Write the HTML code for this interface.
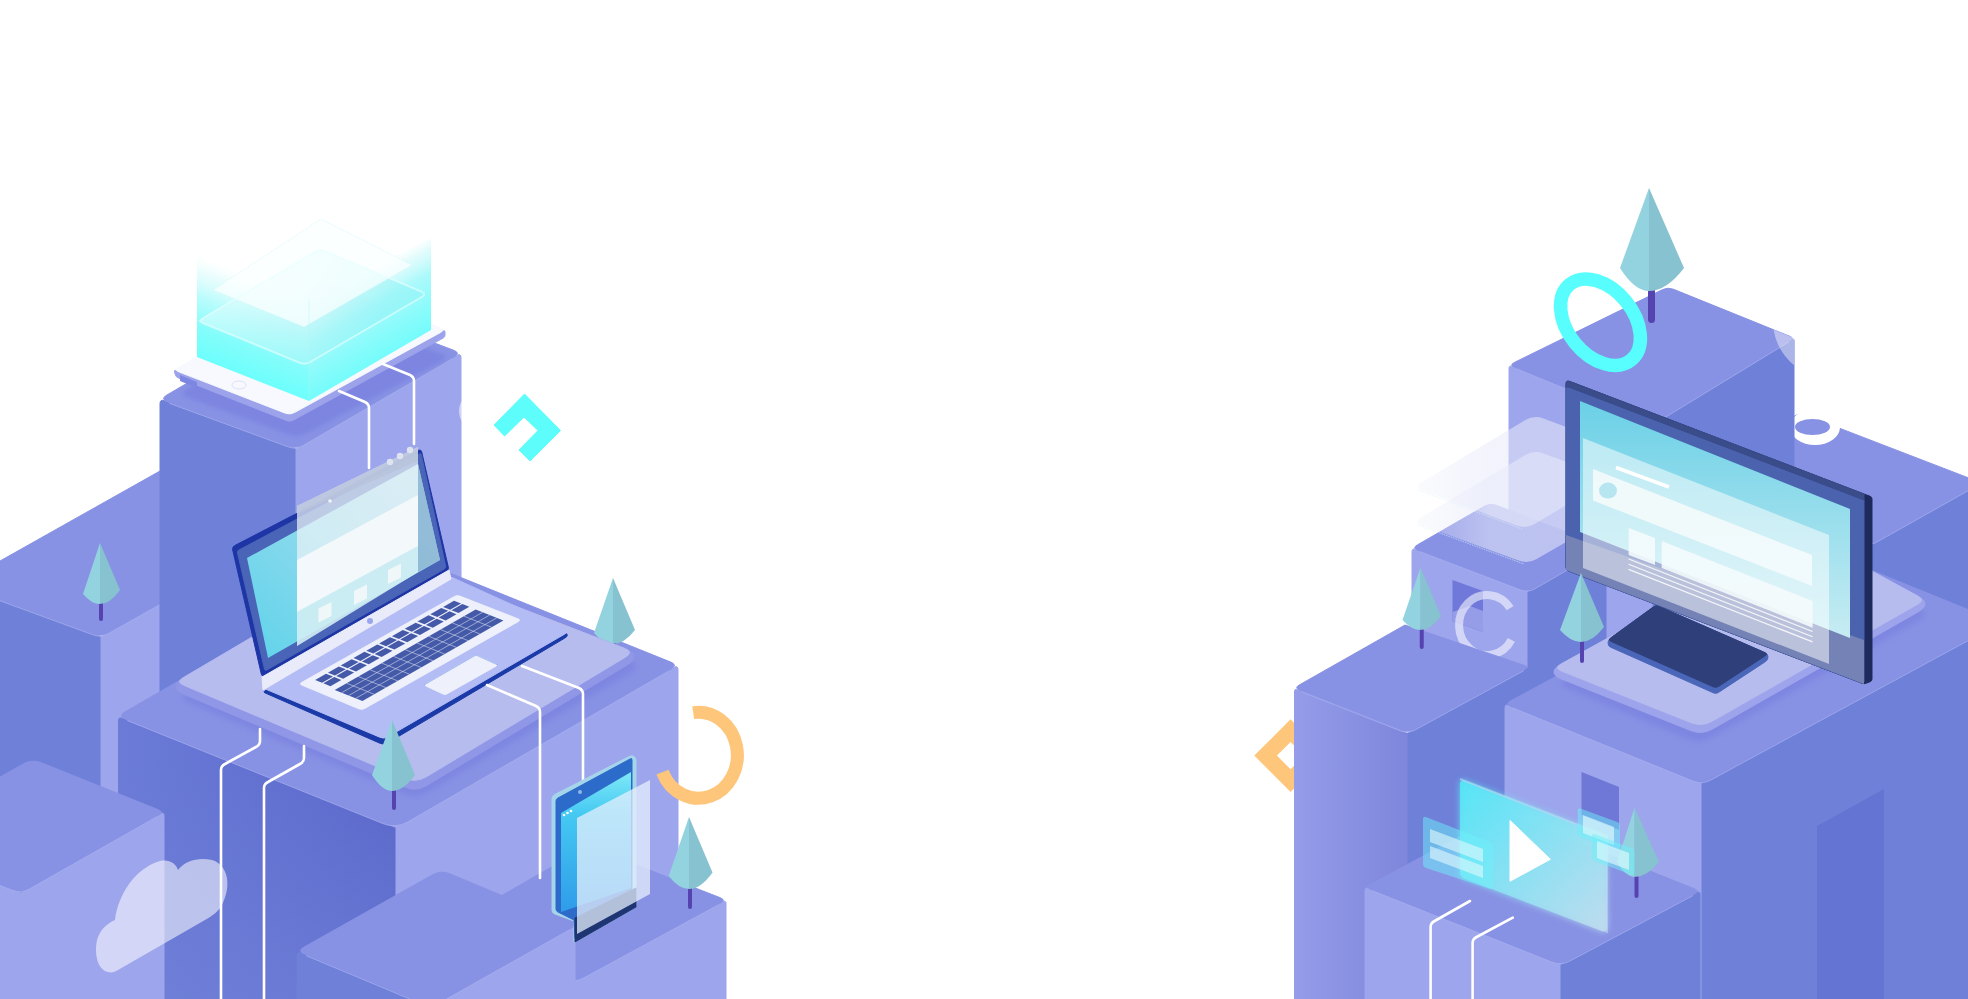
<!DOCTYPE html>
<html><head><meta charset="utf-8"><style>
html,body{margin:0;padding:0;background:#fff;width:1968px;height:999px;overflow:hidden;font-family:"Liberation Sans",sans-serif;}
svg{display:block}
</style></head><body>
<svg width="1968" height="999" viewBox="0 0 1968 999">
<defs>
<linearGradient id="holoL" gradientUnits="userSpaceOnUse" x1="0" y1="400" x2="0" y2="230"><stop offset="0" stop-color="#6ffdfb"/><stop offset="0.35" stop-color="#8ffbfb" stop-opacity="0.9"/><stop offset="0.75" stop-color="#d8fdfd" stop-opacity="0.5"/><stop offset="1" stop-color="#ffffff" stop-opacity="0"/></linearGradient>
<linearGradient id="holoR" gradientUnits="userSpaceOnUse" x1="0" y1="400" x2="0" y2="200"><stop offset="0" stop-color="#78fbfb"/><stop offset="0.35" stop-color="#9cf9fa" stop-opacity="0.85"/><stop offset="0.75" stop-color="#e0fdfd" stop-opacity="0.4"/><stop offset="1" stop-color="#ffffff" stop-opacity="0"/></linearGradient>
<linearGradient id="holoUL" gradientUnits="userSpaceOnUse" x1="0" y1="360" x2="0" y2="255"><stop offset="0" stop-color="#9ffcfb"/><stop offset="0.5" stop-color="#d2fdfd" stop-opacity="0.8"/><stop offset="1" stop-color="#ffffff" stop-opacity="0"/></linearGradient>
<linearGradient id="holoUR" gradientUnits="userSpaceOnUse" x1="0" y1="340" x2="0" y2="235"><stop offset="0" stop-color="#a6fbfb"/><stop offset="0.5" stop-color="#d8fdfd" stop-opacity="0.7"/><stop offset="1" stop-color="#ffffff" stop-opacity="0"/></linearGradient>
<linearGradient id="holoIn" gradientUnits="userSpaceOnUse" x1="230" y1="270" x2="360" y2="350"><stop offset="0" stop-color="#e4fdfd"/><stop offset="1" stop-color="#93f3f6"/></linearGradient>
<linearGradient id="holoL2" gradientUnits="userSpaceOnUse" x1="253" y1="379" x2="287.6" y2="291"><stop offset="0" stop-color="#6cfffc"/><stop offset="0.3" stop-color="#7dfdfb" stop-opacity="0.95"/><stop offset="0.6" stop-color="#a8fbfb" stop-opacity="0.8"/><stop offset="0.85" stop-color="#d0fafb" stop-opacity="0.45"/><stop offset="1" stop-color="#e0fbfc" stop-opacity="0"/></linearGradient>
<linearGradient id="holoR2" gradientUnits="userSpaceOnUse" x1="370" y1="365.5" x2="328" y2="293.4"><stop offset="0" stop-color="#74fcfb"/><stop offset="0.3" stop-color="#88fbfb" stop-opacity="0.95"/><stop offset="0.6" stop-color="#9ef8fa" stop-opacity="0.85"/><stop offset="0.85" stop-color="#c4f8fa" stop-opacity="0.5"/><stop offset="1" stop-color="#d8fafb" stop-opacity="0.02"/></linearGradient>
<clipPath id="clipR5"><rect x="1794" y="380" width="200" height="100"/></clipPath>
<clipPath id="clipRT"><polygon points="1509,365 1668,287 1794,338 1794,999 1509,999"/></clipPath>
<linearGradient id="pan" x1="0" y1="0" x2="1" y2="0"><stop offset="0" stop-color="#ffffff" stop-opacity="0.1"/><stop offset="0.35" stop-color="#f4f5fd" stop-opacity="0.7"/><stop offset="1" stop-color="#e4e6fa" stop-opacity="0.8"/></linearGradient>
<filter id="glow" x="-20%" y="-20%" width="140%" height="140%"><feGaussianBlur in="SourceGraphic" stdDeviation="3" result="b"/><feMerge><feMergeNode in="b"/><feMergeNode in="SourceGraphic"/></feMerge></filter>
<filter id="blur2" x="-10%" y="-10%" width="120%" height="120%"><feGaussianBlur stdDeviation="2"/></filter>
<filter id="blur3" x="-10%" y="-10%" width="120%" height="120%"><feGaussianBlur stdDeviation="3"/></filter>
<linearGradient id="mblv" gradientUnits="userSpaceOnUse" x1="0" y1="760" x2="0" y2="999"><stop offset="0" stop-color="#6e80d8" stop-opacity="0"/><stop offset="1" stop-color="#7485da" stop-opacity="0.55"/></linearGradient>
<linearGradient id="pan2" gradientUnits="userSpaceOnUse" x1="1413" y1="0" x2="1490" y2="0"><stop offset="0" stop-color="#e8eafa" stop-opacity="0.35"/><stop offset="1" stop-color="#e8eafa" stop-opacity="1"/></linearGradient>
<linearGradient id="mbl" x1="0" y1="0" x2="1" y2="0"><stop offset="0" stop-color="#6b7bd7"/><stop offset="1" stop-color="#5a67ca"/></linearGradient>
<linearGradient id="r1l" x1="0" y1="0" x2="1" y2="0"><stop offset="0" stop-color="#959ce9"/><stop offset="1" stop-color="#7e86dc"/></linearGradient>
<linearGradient id="scr" x1="0" y1="1" x2="1" y2="0"><stop offset="0" stop-color="#5fd3ea"/><stop offset="1" stop-color="#b9dff0"/></linearGradient>
<linearGradient id="mscr" x1="0" y1="0" x2="0" y2="1"><stop offset="0" stop-color="#6bd0e6"/><stop offset="1" stop-color="#c7ecf3"/></linearGradient>
<linearGradient id="vid" x1="0" y1="0" x2="1" y2="1"><stop offset="0" stop-color="#55e6f7"/><stop offset="1" stop-color="#c0dcee"/></linearGradient>
<linearGradient id="phone" x1="0" y1="0" x2="0" y2="1"><stop offset="0" stop-color="#7fe8f7"/><stop offset="0.3" stop-color="#45c9f2"/><stop offset="1" stop-color="#2f9ce9"/></linearGradient>
</defs>
<path d="M-42.0,584.6 L101.0,637.0 L101.0,1010.0 L-42.0,1010.0 Z" fill="#6e80d8" stroke="#6e80d8" stroke-width="1" stroke-linejoin="round" />
<path d="M101.0,637.0 L343.0,501.0 L343.0,1010.0 L101.0,1010.0 Z" fill="#9da5ec" stroke="#9da5ec" stroke-width="1" stroke-linejoin="round" />
<path d="M-42.0,584.6 L200.0,448.5 L343.0,501.0 L108.0,633.1 Q101.0,637.0 93.5,634.2 Z" fill="#8892e4" stroke="#8892e4" stroke-width="1" stroke-linejoin="round" />
<path d="M-40.1,586.1 L93.5,635.0 Q101.0,637.8 108.0,633.9 L341.3,502.8" fill="none" stroke="#a5adef" stroke-width="1" opacity="0.85"/>
<path d="M160.0,403.8 Q160.0,399.0 164.5,400.7 L296.0,449.0 L296.0,1010.0 L160.0,1010.0 Z" fill="#6e80d8" stroke="#6e80d8" stroke-width="1" stroke-linejoin="round" />
<path d="M296.0,449.0 L456.9,355.4 Q461.0,353.0 461.0,357.8 L461.0,1010.0 L296.0,1010.0 Z" fill="#9da5ec" stroke="#9da5ec" stroke-width="1" stroke-linejoin="round" />
<path d="M167.5,401.8 Q160.0,399.0 166.9,395.0 L319.1,306.0 Q326.0,302.0 333.5,304.8 L453.5,350.2 Q461.0,353.0 454.1,357.0 L302.9,445.0 Q296.0,449.0 288.5,446.2 Z" fill="#8892e4" stroke="#8892e4" stroke-width="1" stroke-linejoin="round" />
<path d="M169.4,403.3 L288.5,447.0 Q296.0,449.8 302.9,445.8 L452.4,358.8" fill="none" stroke="#a5adef" stroke-width="1" opacity="0.85"/>
<path d="M187.4,397.4 Q178.0,394.0 186.7,389.2 L317.3,316.8 Q326.0,312.0 335.4,315.4 L440.6,353.6 Q450.0,357.0 441.2,361.7 L306.8,433.3 Q298.0,438.0 288.6,434.6 Z" fill="#7c84e0" opacity="0.9" filter="url(#blur2)"/>
<path d="M174.5,371.9 Q174.0,370.0 175.9,370.7 L286.3,413.6 Q290.0,415.0 293.5,413.1 L443.2,331.0 Q445.0,330.0 445.0,332.0 L445.0,335.0 Q445.0,337.0 443.2,338.0 L293.5,420.1 Q290.0,422.0 286.3,420.5 L177.9,377.7 Q176.0,377.0 175.5,375.1 Z" fill="#9ca3eb" stroke="#9ca3eb" stroke-width="1" stroke-linejoin="round" />
<polygon points="180,375 197,382 197,388 180,381" fill="#7d86e0" />
<path d="M178.7,371.8 Q174.0,370.0 178.4,367.6 L325.6,285.4 Q330.0,283.0 334.6,284.9 L440.4,328.1 Q445.0,330.0 440.6,332.4 L294.4,412.6 Q290.0,415.0 285.3,413.2 Z" fill="#f7f9fe" stroke="#f7f9fe" stroke-width="1" stroke-linejoin="round" />
<ellipse cx="239" cy="385" rx="7" ry="4" fill="none" stroke="#dde2f6" stroke-width="1"/>
<polygon points="197,255 309,300 309,401 197,357" fill="url(#holoL2)"/>
<polygon points="309,300 431,238 431,330 309,401" fill="url(#holoR2)"/>
<polygon points="198,321 320,249 427,294 305,365" fill="url(#holoIn)" opacity="0.55"/>
<polygon points="213,290 321,219 412,265 304,327" fill="#fbffff" opacity="0.75"/>
<polygon points="213,290 321,219 412,265 304,327" fill="none" stroke="#d0f6f8" stroke-width="1" stroke-dasharray="1.5,1.5" opacity="0.8"/>
<path d="M203.5,323.3 Q198.0,321.0 203.2,318.0 L314.8,252.0 Q320.0,249.0 325.5,251.3 L421.5,291.7 Q427.0,294.0 421.8,297.0 L310.2,362.0 Q305.0,365.0 299.5,362.7 Z" fill="none" stroke="#e6ffff" stroke-opacity="0.65" stroke-width="1.8"/>
<line x1="309" y1="300" x2="309" y2="401" stroke="#a8fbfb" stroke-opacity="0.4" stroke-width="1"/>
<path d="M118.0,721.0 Q118.0,716.0 122.6,717.9 L396.0,828.0 L396.0,1010.0 L118.0,1010.0 Z" fill="url(#mbl)"/>
<path d="M118.0,721.0 Q118.0,716.0 122.6,717.9 L396.0,828.0 L396.0,1010.0 L118.0,1010.0 Z" fill="url(#mblv)"/>
<path d="M396.0,828.0 L673.8,667.4 Q678.0,665.0 678.0,669.8 L678.0,1010.0 L396.0,1010.0 Z" fill="#9da5ec" stroke="#9da5ec" stroke-width="1" stroke-linejoin="round" />
<path d="M125.4,719.0 Q118.0,716.0 124.9,712.0 L400.0,553.0 L670.6,662.0 Q678.0,665.0 671.1,669.0 L408.1,821.0 Q396.0,828.0 383.0,822.8 Z" fill="#8892e4" stroke="#8892e4" stroke-width="1" stroke-linejoin="round" />
<path d="M127.3,720.5 L383.0,823.6 Q396.0,828.8 408.1,821.8 L669.3,670.8" fill="none" stroke="#a5adef" stroke-width="1" opacity="0.85"/>
<path d="M189.0,702.7 Q178.0,698.0 188.3,691.9 L379.7,578.1 Q390.0,572.0 401.2,576.2 L630.8,661.8 Q642.0,666.0 631.7,672.1 L426.3,792.9 Q416.0,799.0 405.0,794.3 Z" fill="#7c84e0" opacity="0.85" filter="url(#blur3)"/>
<rect x="612.0" y="640" width="4" height="6" rx="2.0" fill="#5544b0"/>
<path d="M613,578 L594,633 Q603.5,644 613,644 Z" fill="#93d3e0"/>
<path d="M613,578 L635,630 Q624.0,644 613,644 Z" fill="#86c2cf"/>
<path d="M176.0,686.5 Q176.0,682.0 182.9,677.9 L384.6,559.0 Q388.0,557.0 391.7,558.4 L626.5,649.1 Q634.0,652.0 634.0,656.5 L634.0,656.5 Q634.0,661.0 627.1,665.1 L426.3,785.8 Q416.0,792.0 404.9,787.3 L183.4,694.1 Q176.0,691.0 176.0,686.5 Z" fill="#9097e7" stroke="#9097e7" stroke-width="1" stroke-linejoin="round" />
<path d="M183.4,685.1 Q176.0,682.0 182.9,677.9 L384.6,559.0 Q388.0,557.0 391.7,558.4 L624.7,648.4 Q634.0,652.0 625.4,657.2 L426.3,776.8 Q416.0,783.0 404.9,778.3 Z" fill="#b7bcef" stroke="#b7bcef" stroke-width="1" stroke-linejoin="round" />
<path d="M264.8,692.8 Q263.0,692.0 264.7,691.0 L449.3,580.0 Q451.0,579.0 452.8,579.9 L564.6,632.4 Q570.0,635.0 564.8,638.1 L387.4,743.0 Q384.0,745.0 380.3,743.4 Z" fill="#1a3aa8" stroke="#1a3aa8" stroke-width="1" stroke-linejoin="round" />
<path d="M264.8,688.8 Q263.0,688.0 264.7,687.0 L449.3,578.0 Q451.0,577.0 452.8,577.8 L564.5,628.5 Q570.0,631.0 564.8,634.0 L387.5,737.0 Q384.0,739.0 380.3,737.4 Z" fill="#b4bcf6" stroke="#b4bcf6" stroke-width="1" stroke-linejoin="round" />
<path d="M301.8,685.1 Q299.0,684.0 301.6,682.5 L454.4,596.5 Q457.0,595.0 459.8,596.1 L518.2,618.9 Q521.0,620.0 518.4,621.5 L364.6,708.5 Q362.0,710.0 359.2,708.9 Z" fill="#eef0fb" stroke="#eef0fb" stroke-width="1" stroke-linejoin="round" />
<polygon points="315.12,680.0 326.01,673.78 333.03,676.59 322.13,682.81" fill="#4459a8" />
<polygon points="327.92,672.69 338.82,666.47 345.83,669.29 334.93,675.51" fill="#4459a8" />
<polygon points="340.72,665.39 351.62,659.17 358.63,661.98 347.73,668.2" fill="#4459a8" />
<polygon points="353.52,658.08 364.42,651.86 371.43,654.68 360.53,660.9" fill="#4459a8" />
<polygon points="366.32,650.77 377.22,644.56 384.23,647.37 373.34,653.59" fill="#4459a8" />
<polygon points="379.12,643.47 390.02,637.25 397.03,640.07 386.14,646.28" fill="#4459a8" />
<polygon points="391.92,636.16 402.82,629.94 409.83,632.76 398.94,638.98" fill="#4459a8" />
<polygon points="404.73,628.86 415.62,622.64 422.63,625.45 411.74,631.67" fill="#4459a8" />
<polygon points="417.53,621.55 428.42,615.33 435.44,618.15 424.54,624.37" fill="#4459a8" />
<polygon points="430.33,614.25 441.22,608.03 448.24,610.84 437.34,617.06" fill="#4459a8" />
<polygon points="443.13,606.94 454.02,600.72 461.04,603.54 450.14,609.76" fill="#4459a8" />
<polygon points="323.41,683.33 334.3,677.11 341.31,679.92 330.42,686.14" fill="#4459a8" />
<polygon points="336.21,676.02 347.1,669.8 354.12,672.62 343.22,678.84" fill="#4459a8" />
<polygon points="349.01,668.71 359.9,662.5 366.92,665.31 356.02,671.53" fill="#4459a8" />
<polygon points="361.81,661.41 372.71,655.19 379.72,658.01 368.82,664.22" fill="#4459a8" />
<polygon points="374.61,654.1 385.51,647.88 392.52,650.7 381.62,656.92" fill="#4459a8" />
<polygon points="387.41,646.8 398.31,640.58 405.32,643.39 394.42,649.61" fill="#4459a8" />
<polygon points="400.21,639.49 411.11,633.27 418.12,636.09 407.22,642.31" fill="#4459a8" />
<polygon points="413.01,632.19 423.91,625.97 430.92,628.78 420.03,635.0" fill="#4459a8" />
<polygon points="425.81,624.88 436.71,618.66 443.72,621.48 432.83,627.7" fill="#4459a8" />
<polygon points="438.62,617.57 449.51,611.36 456.52,614.17 445.63,620.39" fill="#4459a8" />
<polygon points="451.42,610.27 462.31,604.05 469.32,606.87 458.43,613.08" fill="#4459a8" />
<polygon points="334.73,689.88 475.7,609.43 503.43,620.56 362.46,701.01" fill="#4459a8" />
<path d="M341.74,692.69 L482.71,612.24 M348.75,695.51 L489.73,615.06 M355.77,698.33 L496.74,617.87 M346.48,683.17 L374.21,694.31 M358.22,676.47 L385.96,687.61 M369.97,669.77 L397.7,680.9 M381.72,663.06 L409.45,674.2 M393.47,656.36 L421.2,667.49 M405.21,649.65 L432.95,660.79 M416.96,642.95 L444.69,654.08 M428.71,636.24 L456.44,647.38 M440.46,629.54 L468.19,640.68 M452.2,622.83 L479.94,633.97 M463.95,616.13 L491.68,627.27" stroke="#dfe4f6" stroke-width="0.7" opacity="0.8" fill="none"/>
<path d="M425.8,685.9 Q424.0,685.0 425.7,684.0 L474.3,656.0 Q476.0,655.0 477.8,655.8 L496.2,664.2 Q498.0,665.0 496.3,666.0 L446.7,694.0 Q445.0,695.0 443.2,694.1 Z" fill="#eef0fb" stroke="#eef0fb" stroke-width="1" stroke-linejoin="round" />
<path d="M424,685 L476,655 L498,665" fill="none" stroke="#6f9be8" stroke-width="0.6"/>
<path d="M232.7,549.9 Q232.0,547.0 234.7,545.6 L418.3,450.4 Q421.0,449.0 421.7,451.9 L448.3,567.1 Q449.0,570.0 446.4,571.5 L264.6,675.5 Q262.0,677.0 261.3,674.1 Z" fill="#1e35a5" stroke="#1e35a5" stroke-width="1" stroke-linejoin="round" />
<path d="M237.5,552.9 Q237.0,551.0 238.8,550.1 L419.2,453.9 Q421.0,453.0 421.4,455.0 L445.6,566.0 Q446.0,568.0 444.3,569.0 L266.7,670.0 Q265.0,671.0 264.5,669.1 Z" fill="#4a64b8" stroke="#4a64b8" stroke-width="1" stroke-linejoin="round" />
<polygon points="262,677 449,570 451,579 263,690" fill="#e9ebfa" stroke="#e9ebfa" stroke-width="1" stroke-linejoin="round" />
<polygon points="247,558 418,464 440,560 268,658" fill="url(#scr)"/>
<polygon points="418,464 440,560 418,572" fill="#8db4d2" opacity="0.8"/>
<polygon points="297,506 418,447 418,572 297,646" fill="#eaf2f7" opacity="0.72"/>
<polygon points="297,506 418,447 418,461 297,514" fill="#b9c3dc" opacity="0.85"/>
<polygon points="297,560 418,495 418,546 297,612" fill="#f6fafc" opacity="0.9"/>
<polygon points="297,612 418,546 418,572 297,646" fill="#c8ecf2" opacity="0.6"/>
<circle cx="390" cy="462" r="3.2" fill="#dde4ef"/>
<circle cx="400" cy="456" r="3.2" fill="#dde4ef"/>
<circle cx="410" cy="450" r="3.2" fill="#dde4ef"/>
<circle cx="330" cy="501" r="1.8" fill="#ffffff" opacity="0.8"/>
<polygon points="318.5,608.5 331.5,602.0 331.5,616.0 318.5,622.5" fill="#f0f7f9"/>
<polygon points="354,591 367,584.5 367,598.5 354,605" fill="#f0f7f9"/>
<polygon points="388,570 401,563.5 401,577.5 388,584" fill="#f0f7f9"/>
<circle cx="370" cy="621" r="3" fill="#98a6ee"/>
<path d="M-111.0,840.0 L21.0,893.0 L21.0,1010.0 L-111.0,1010.0 Z" fill="#9da5ec" stroke="#9da5ec" stroke-width="1" stroke-linejoin="round" />
<path d="M21.0,893.0 L160.9,813.8 Q164.0,812.0 164.0,815.6 L164.0,1010.0 L21.0,1010.0 Z" fill="#9da5ec" stroke="#9da5ec" stroke-width="1" stroke-linejoin="round" />
<path d="M-111.0,840.0 L23.3,763.9 Q32.0,759.0 41.3,762.7 L158.4,809.8 Q164.0,812.0 158.8,815.0 L29.7,888.1 Q21.0,893.0 11.7,889.3 Z" fill="#8892e4" stroke="#8892e4" stroke-width="1" stroke-linejoin="round" />
<path d="M-109.1,841.5 L11.7,890.1 Q21.0,893.8 29.7,888.9 L157.0,816.7" fill="none" stroke="#a5adef" stroke-width="1" opacity="0.85"/>
<path d="M575.0,982.0 L722.8,901.7 Q726.0,900.0 726.0,903.6 L726.0,1010.0 L575.0,1010.0 Z" fill="#9da5ec" stroke="#9da5ec" stroke-width="1" stroke-linejoin="round" />
<path d="M440.0,931.0 L588.0,846.0 L720.4,897.8 Q726.0,900.0 720.7,902.9 L583.8,977.2 Q575.0,982.0 565.6,978.5 Z" fill="#8892e4" stroke="#8892e4" stroke-width="1" stroke-linejoin="round" />
<path d="M441.9,932.5 L565.6,979.3 Q575.0,982.8 583.8,978.0 L719.0,904.6" fill="none" stroke="#a5adef" stroke-width="1" opacity="0.85"/>
<path d="M297.0,955.8 Q297.0,951.0 301.4,952.9 L431.0,1007.0 L431.0,1010.0 L297.0,1010.0 Z" fill="#6e80d8" stroke="#6e80d8" stroke-width="1" stroke-linejoin="round" />
<path d="M431.0,1007.0 L572.9,927.2 Q575.0,926.0 575.0,928.4 L575.0,1010.0 L431.0,1010.0 Z" fill="#9da5ec" stroke="#9da5ec" stroke-width="1" stroke-linejoin="round" />
<path d="M304.4,954.1 Q297.0,951.0 304.0,947.1 L432.3,874.9 Q441.0,870.0 450.2,873.9 L571.3,924.5 Q575.0,926.0 571.5,928.0 L438.0,1003.1 Q431.0,1007.0 423.6,1003.9 Z" fill="#8892e4" stroke="#8892e4" stroke-width="1" stroke-linejoin="round" />
<path d="M306.2,955.7 L423.6,1004.7 Q431.0,1007.8 438.0,1003.9 L569.8,929.7" fill="none" stroke="#a5adef" stroke-width="1" opacity="0.85"/>
<g fill="none" stroke="#ffffff" stroke-width="2.6" stroke-linejoin="round" stroke-linecap="round"><path d="M221,1002 L221,770 Q221,766 225,764 L256,747 Q260,745 260,741 L260,729"/><path d="M264,1002 L264,788 Q264,784 268,782 L300,764 Q304,762 304,758 L304,746"/><path d="M540,878 L540,712 Q540,708 536,706 L487,685"/><path d="M583,780 L583,694 Q583,690 579,688 L522,666"/><path d="M339,391 L365,402 Q369,404 369,408 L369,468"/><path d="M383,364 L410,375 Q414,377 414,381 L414,444"/></g>
<path d="M108,972 C98,970 94,955 97,940 C100,930 106,924 115,920 C118,895 135,868 160,861 C170,859 176,864 178,870 C185,860 200,857 212,860 C228,865 232,885 222,905 C218,912 212,916 205,920 L118,970 C115,972 111,973 108,972 Z" fill="#ffffff" opacity="0.55"/>
<rect x="99.0" y="600" width="4" height="21" rx="2.0" fill="#5544b0"/>
<path d="M100,543 L83,594 Q91.5,604 100,604 Z" fill="#93d3e0"/>
<path d="M100,543 L120,590 Q110.0,604 100,604 Z" fill="#86c2cf"/>
<rect x="392.0" y="788" width="4" height="22" rx="2.0" fill="#5544b0"/>
<path d="M392,720 L372,775 Q382.0,791 392,791 Z" fill="#93d3e0"/>
<path d="M392,720 L415,775 Q403.5,791 392,791 Z" fill="#86c2cf"/>
<rect x="688.0" y="886" width="4" height="23" rx="2.0" fill="#5544b0"/>
<path d="M689,817 L668.7,876 Q678.85,889 689,889 Z" fill="#93d3e0"/>
<path d="M689,817 L712.5,872.5 Q700.75,889 689,889 Z" fill="#86c2cf"/>
<path d="M552.0,799.0 Q552.0,796.0 554.7,794.6 L629.3,756.4 Q632.0,755.0 634.0,756.5 L634.4,756.8 Q636.0,758.0 636.0,760.0 L636.0,905.0 Q636.0,907.0 634.3,908.0 L575.0,942.0 L574.0,942.0 L574.0,921.0 L554.8,914.0 Q552.0,913.0 552.0,910.0 Z" fill="#a5d5ea" stroke="#a5d5ea" stroke-width="1" stroke-linejoin="round" />
<path d="M556.0,801.0 Q556.0,799.0 557.8,798.1 L630.2,758.9 Q632.0,758.0 632.0,760.0 L632.0,903.0 Q632.0,905.0 630.3,906.0 L575.0,938.0 L574.0,920.0 L557.8,911.9 Q556.0,911.0 556.0,909.0 Z" fill="#2c6bc9" stroke="#2c6bc9" stroke-width="1" stroke-linejoin="round" />
<polygon points="561,813 631,772 631,888 561,912" fill="url(#phone)"/>
<polygon points="575,918 636,888 636,907 575,942" fill="#1e3573" stroke="#1e3573" stroke-width="1" stroke-linejoin="round" />
<polygon points="577,818 650,780 650,894 577,934" fill="#e6effc" opacity="0.75"/>
<circle cx="580" cy="792" r="2" fill="#8fb7e8"/>
<circle cx="564" cy="815" r="1.3" fill="#ffffff"/>
<circle cx="567.5" cy="813" r="1.3" fill="#ffffff"/>
<circle cx="571" cy="811" r="1.3" fill="#ffffff"/>
<path d="M693.2,712.6 A39,43 0 1 1 662.5,772.1" fill="none" stroke="#fec67b" stroke-width="13"/>
<ellipse cx="471" cy="411" rx="12" ry="16" fill="#ffffff" opacity="0.5"/>
<polygon points="494,425 524.5,394 560.5,430.5 530,461 519,450 538,430.5 524,417 504.5,436" fill="#5cfdfb" stroke="#5cfdfb" stroke-width="1" stroke-linejoin="round" />
<path d="M1691.0,474.3 L1872.0,544.0 L1872.0,1010.0 L1691.0,1010.0 Z" fill="#9da5ec" stroke="#9da5ec" stroke-width="1" stroke-linejoin="round" />
<path d="M1872.0,544.0 L1981.0,482.7 L1981.0,1010.0 L1872.0,1010.0 Z" fill="#6e80d8" stroke="#6e80d8" stroke-width="1" stroke-linejoin="round" />
<path d="M1691.0,474.3 L1796.5,415.0 Q1800.0,413.0 1803.7,414.4 L1981.0,482.7 L1875.5,542.0 Q1872.0,544.0 1868.3,542.6 Z" fill="#8892e4" stroke="#8892e4" stroke-width="1" stroke-linejoin="round" />
<path d="M1692.9,475.8 L1868.3,543.4 Q1872.0,544.8 1875.5,542.8 L1979.3,484.5" fill="none" stroke="#a5adef" stroke-width="1" opacity="0.85"/>
<g clip-path="url(#clipR5)"><ellipse cx="1815" cy="427" rx="25" ry="18" fill="#ffffff"/><ellipse cx="1812.5" cy="427" rx="17.5" ry="8" fill="#8892e4"/></g>
<path d="M1509.0,368.6 Q1509.0,365.0 1512.3,366.4 L1653.0,424.0 L1653.0,1010.0 L1509.0,1010.0 Z" fill="#9da5ec" stroke="#9da5ec" stroke-width="1" stroke-linejoin="round" />
<path d="M1653.0,424.0 L1792.0,339.2 Q1794.0,338.0 1794.0,340.4 L1794.0,1010.0 L1653.0,1010.0 Z" fill="#6e80d8" stroke="#6e80d8" stroke-width="1" stroke-linejoin="round" />
<path d="M1514.6,367.3 Q1509.0,365.0 1514.4,362.4 L1662.6,289.6 Q1668.0,287.0 1673.6,289.3 L1790.3,336.5 Q1794.0,338.0 1790.6,340.1 L1658.1,420.9 Q1653.0,424.0 1647.4,421.7 Z" fill="#8892e4" stroke="#8892e4" stroke-width="1" stroke-linejoin="round" />
<path d="M1516.4,368.8 L1647.4,422.5 Q1653.0,424.8 1658.1,421.7 L1788.9,341.9" fill="none" stroke="#a5adef" stroke-width="1" opacity="0.85"/>
<g clip-path="url(#clipRT)"><circle cx="1830" cy="321" r="57" fill="#ffffff" opacity="0.42"/></g>
<path d="M1412.0,551.6 Q1412.0,548.0 1415.4,549.3 L1528.0,592.0 L1528.0,1010.0 L1412.0,1010.0 Z" fill="#9da5ec" stroke="#9da5ec" stroke-width="1" stroke-linejoin="round" />
<path d="M1528.0,592.0 L1602.9,548.8 Q1606.0,547.0 1606.0,550.6 L1606.0,1010.0 L1528.0,1010.0 Z" fill="#6e80d8" stroke="#6e80d8" stroke-width="1" stroke-linejoin="round" />
<path d="M1417.6,550.1 Q1412.0,548.0 1417.2,545.0 L1484.8,506.0 Q1490.0,503.0 1495.6,505.1 L1600.4,544.9 Q1606.0,547.0 1600.8,550.0 L1534.9,588.0 Q1528.0,592.0 1520.5,589.2 Z" fill="#8892e4" stroke="#8892e4" stroke-width="1" stroke-linejoin="round" />
<path d="M1419.5,551.6 L1520.5,590.0 Q1528.0,592.8 1534.9,588.8 L1599.1,551.8" fill="none" stroke="#a5adef" stroke-width="1" opacity="0.85"/>
<polygon points="1452.5,580 1483,591 1483,632 1452.5,621" fill="#7079d9" />
<polygon points="1452.5,612 1470,606 1483,611 1483,632 1452.5,621" fill="#959ce8" />
<path d="M1510.2,608.2 A28,30 0 1 0 1511.4,639.8" fill="none" stroke="#ffffff" stroke-opacity="0.55" stroke-width="8"/>
<path d="M1422.4,525.4 Q1413.0,522.0 1421.6,516.9 L1525.4,455.1 Q1534.0,450.0 1543.4,453.4 L1641.6,489.6 Q1651.0,493.0 1642.3,498.0 L1536.7,559.0 Q1528.0,564.0 1518.6,560.6 Z" fill="url(#pan2)" opacity="0.55"/>
<path d="M1418,525 L1524,564" fill="none" stroke="#d3f1fb" stroke-width="1" stroke-dasharray="1.5,1" opacity="0.6"/>
<path d="M1422.9,490.5 Q1413.5,487.0 1422.1,481.9 L1525.4,420.1 Q1534.0,415.0 1543.4,418.5 L1637.6,453.5 Q1647.0,457.0 1638.4,462.1 L1534.6,523.9 Q1526.0,529.0 1516.6,525.5 Z" fill="url(#pan2)" opacity="0.55"/>
<path d="M1418,490 L1522,529" fill="none" stroke="#d3f1fb" stroke-width="1" stroke-dasharray="1.5,1" opacity="0.6"/>
<path d="M1254.3,755.6 L1290.6,719.3 L1326.9,755.6 L1290.6,791.9 Z M1276.9,755.6 L1290.6,769.3 L1304.3,755.6 L1290.6,741.9 Z" fill="#fec67b" fill-rule="evenodd"/>
<path d="M1294.0,692.0 Q1294.0,688.0 1297.7,689.5 L1408.0,733.0 L1408.0,1010.0 L1294.0,1010.0 Z" fill="url(#r1l)"/>
<path d="M1408.0,733.0 L1526.9,668.1 Q1529.0,667.0 1529.0,669.4 L1529.0,1010.0 L1408.0,1010.0 Z" fill="#6e80d8" stroke="#6e80d8" stroke-width="1" stroke-linejoin="round" />
<path d="M1299.6,690.2 Q1294.0,688.0 1299.2,685.0 L1405.0,625.0 L1525.2,665.7 Q1529.0,667.0 1525.5,668.9 L1415.0,729.2 Q1408.0,733.0 1400.6,730.1 Z" fill="#8892e4" stroke="#8892e4" stroke-width="1" stroke-linejoin="round" />
<path d="M1301.4,691.7 L1400.6,730.9 Q1408.0,733.8 1415.0,730.0 L1523.7,670.7" fill="none" stroke="#a5adef" stroke-width="1" opacity="0.85"/>
<path d="M1505.0,707.6 Q1505.0,704.0 1508.3,705.4 L1702.0,784.0 L1702.0,1010.0 L1505.0,1010.0 Z" fill="#9da5ec" stroke="#9da5ec" stroke-width="1" stroke-linejoin="round" />
<path d="M1702.0,784.0 L2000.0,622.5 L2000.0,1010.0 L1702.0,1010.0 Z" fill="#6e80d8" stroke="#6e80d8" stroke-width="1" stroke-linejoin="round" />
<path d="M1510.6,706.3 Q1505.0,704.0 1510.3,701.1 L1803.0,542.5 L2000.0,622.5 L1710.8,779.2 Q1702.0,784.0 1692.7,780.2 Z" fill="#8892e4" stroke="#8892e4" stroke-width="1" stroke-linejoin="round" />
<path d="M1512.4,707.8 L1692.7,781.0 Q1702.0,784.8 1710.8,780.0 L1998.2,624.3" fill="none" stroke="#a5adef" stroke-width="1" opacity="0.85"/>
<polygon points="1817,826 1884,789 1884,1010 1817,1010" fill="#6474d3" />
<polygon points="1581.5,772 1619,787 1619,830 1581.5,815" fill="#6f77d7" />
<path d="M1567.1,688.6 Q1556.0,684.0 1566.5,678.2 L1789.5,554.8 Q1800.0,549.0 1810.7,554.4 L1919.3,608.6 Q1930.0,614.0 1919.6,619.9 L1710.4,738.1 Q1700.0,744.0 1688.9,739.4 Z" fill="#7c84e0" opacity="0.85" filter="url(#blur3)"/>
<path d="M1554.0,672.0 Q1554.0,668.0 1561.0,664.1 L1794.7,534.9 Q1800.0,532.0 1805.3,534.9 L1918.0,596.2 Q1925.0,600.0 1925.0,604.0 L1925.0,604.0 Q1925.0,608.0 1918.0,612.0 L1712.4,729.1 Q1702.0,735.0 1690.9,730.6 L1561.4,679.0 Q1554.0,676.0 1554.0,672.0 Z" fill="#9ea4ec" stroke="#9ea4ec" stroke-width="1" stroke-linejoin="round" />
<path d="M1561.4,671.0 Q1554.0,668.0 1561.0,664.1 L1794.7,534.9 Q1800.0,532.0 1805.3,534.9 L1918.0,596.2 Q1925.0,600.0 1918.0,604.0 L1712.4,721.1 Q1702.0,727.0 1690.9,722.6 Z" fill="#b7bcef" stroke="#b7bcef" stroke-width="1" stroke-linejoin="round" />
<path d="M1365.0,890.6 Q1365.0,887.0 1368.3,888.3 L1561.0,965.0 L1561.0,1010.0 L1365.0,1010.0 Z" fill="#9da5ec" stroke="#9da5ec" stroke-width="1" stroke-linejoin="round" />
<path d="M1561.0,965.0 L1696.8,892.7 Q1700.0,891.0 1700.0,894.6 L1700.0,1010.0 L1561.0,1010.0 Z" fill="#6e80d8" stroke="#6e80d8" stroke-width="1" stroke-linejoin="round" />
<path d="M1370.6,889.2 Q1365.0,887.0 1370.3,884.2 L1504.0,813.0 L1694.4,888.8 Q1700.0,891.0 1694.7,893.8 L1569.8,960.3 Q1561.0,965.0 1551.7,961.3 Z" fill="#8892e4" stroke="#8892e4" stroke-width="1" stroke-linejoin="round" />
<path d="M1372.4,890.8 L1551.7,962.1 Q1561.0,965.8 1569.8,961.1 L1692.9,895.6" fill="none" stroke="#a5adef" stroke-width="1" opacity="0.85"/>
<g fill="none" stroke="#ffffff" stroke-width="2.6" stroke-linejoin="round" stroke-linecap="round"><path d="M1430.6,1002 L1430.6,927 Q1430.6,923 1434.6,921 L1470,901"/><path d="M1472.6,1002 L1472.6,943 Q1472.6,939 1476.6,937 L1512.8,917.6"/></g>
<path d="M1608.0,643.0 Q1608.0,640.0 1610.4,638.2 L1653.6,606.8 Q1656.0,605.0 1658.7,606.2 L1765.3,652.8 Q1768.0,654.0 1768.0,657.0 L1768.0,657.0 Q1768.0,660.0 1765.5,661.6 L1718.5,692.4 Q1716.0,694.0 1713.3,692.8 L1610.7,647.2 Q1608.0,646.0 1608.0,643.0 Z" fill="#4a66b8" stroke="#4a66b8" stroke-width="1" stroke-linejoin="round" />
<path d="M1610.7,641.2 Q1608.0,640.0 1610.4,638.2 L1653.6,606.8 Q1656.0,605.0 1658.7,606.2 L1765.3,652.8 Q1768.0,654.0 1765.5,655.6 L1718.5,686.4 Q1716.0,688.0 1713.3,686.8 Z" fill="#2f3f7a" stroke="#2f3f7a" stroke-width="1" stroke-linejoin="round" />
<path d="M1566.0,385.0 Q1566.0,380.0 1570.7,381.8 L1862.1,493.3 Q1864.0,494.0 1865.9,494.7 L1870.1,496.3 Q1872.0,497.0 1872.0,499.0 L1872.0,679.0 Q1872.0,681.0 1870.1,681.7 L1865.9,683.3 Q1864.0,684.0 1862.1,683.3 L1568.8,571.1 Q1566.0,570.0 1566.0,567.0 Z" fill="#1e2a5c" stroke="#1e2a5c" stroke-width="1" stroke-linejoin="round" />
<path d="M1566.0,390.0 Q1566.0,386.0 1569.7,387.4 L1864.0,500.0 L1864.0,681.0 Q1864.0,684.0 1861.2,682.9 L1568.8,571.1 Q1566.0,570.0 1566.0,567.0 Z" fill="#4b63ae" stroke="#4b63ae" stroke-width="1" stroke-linejoin="round" />
<path d="M1566.0,383.0 Q1566.0,380.0 1569.7,381.4 L1864.0,494.0 L1864.0,500.0 L1566.0,386.0 Z" fill="#3a4c8a" stroke="#3a4c8a" stroke-width="1" stroke-linejoin="round" />
<polygon points="1566,535 1864,640 1864,684 1566,570" fill="#7482b6"/>
<polygon points="1580,401 1850,509 1850,638 1580,532" fill="url(#mscr)"/>
<polygon points="1583,438 1829,535 1829,664 1583,568" fill="#ffffff" opacity="0.5"/>
<polygon points="1593,469 1812,555 1812,586 1593,500.5" fill="#f4fbfc" opacity="0.9"/>
<ellipse cx="1608" cy="490.6" rx="9" ry="8" fill="#b8e6f0"/>
<line x1="1616" y1="467.5" x2="1669" y2="487" stroke="#ffffff" stroke-width="3.5"/>
<polygon points="1628.6,528 1655,538 1655,565 1628.6,555" fill="#f4fbfc" opacity="0.9"/>
<polygon points="1661.7,541 1812.6,601 1812.6,627.7 1661.7,568" fill="#f4fbfc" opacity="0.9"/>
<g stroke="#ffffff" stroke-width="1.2" opacity="0.85"><line x1="1628.6" y1="559" x2="1812.6" y2="631.5"/><line x1="1628.6" y1="564.2" x2="1812.6" y2="636.7"/><line x1="1628.6" y1="569.4" x2="1812.6" y2="641.9"/></g>
<g filter="url(#glow)">
<path d="M1460.0,784.0 Q1460.0,779.0 1464.7,780.8 L1602.3,834.2 Q1607.0,836.0 1607.0,841.0 L1607.0,928.0 Q1607.0,933.0 1602.3,931.2 L1464.7,878.8 Q1460.0,877.0 1460.0,872.0 Z" fill="url(#vid)" opacity="0.88"/>
</g>
<path d="M1460,779 L1607,836 L1607,933" fill="none" stroke="#b9d8f4" stroke-width="2" opacity="0.6"/>
<polygon points="1510,820.4 1510,881.3 1550.4,859.3" fill="#ffffff" stroke="#ffffff" stroke-width="1" stroke-linejoin="round" />
<path d="M1423.0,819.0 Q1423.0,816.0 1425.8,817.1 L1490.2,841.9 Q1493.0,843.0 1493.0,846.0 L1493.0,887.0 Q1493.0,890.0 1490.1,889.1 L1425.9,867.9 Q1423.0,867.0 1423.0,864.0 Z" fill="#6ef0fa" opacity="0.5"/>
<polygon points="1430,829 1483,849 1483,862 1430,842" fill="#dff8fb" opacity="0.6"/>
<polygon points="1430,846 1483,866 1483,878 1430,858" fill="#dff8fb" opacity="0.6"/>
<rect x="1634.5" y="875" width="4" height="23" rx="2.0" fill="#5544b0"/>
<path d="M1634.6,807.4 L1617,862 Q1625.8,877 1634.6,877 Z" fill="#93d3e0"/>
<path d="M1634.6,807.4 L1659,862 Q1646.8,877 1634.6,877 Z" fill="#86c2cf"/>
<path d="M1577.6,810.4 Q1577.6,807.4 1580.4,808.4 L1617.2,822.0 Q1620.0,823.0 1620.0,826.0 L1620.0,848.5 Q1620.0,851.5 1617.2,850.5 L1580.4,837.0 Q1577.6,836.0 1577.6,833.0 Z" fill="#6ef0fa" opacity="0.5"/>
<polygon points="1583,815 1614,827 1614,845 1583,833" fill="#dff8fb" opacity="0.65"/>
<path d="M1592.0,836.3 Q1592.0,833.3 1594.8,834.3 L1631.8,848.0 Q1634.6,849.0 1634.6,852.0 L1634.6,873.0 Q1634.6,876.0 1631.8,874.9 L1594.8,861.1 Q1592.0,860.0 1592.0,857.0 Z" fill="#6ef0fa" opacity="0.5"/>
<polygon points="1597,841 1629,853 1629,870 1597,858" fill="#dff8fb" opacity="0.65"/>
<rect x="1648.0" y="288" width="7" height="35" rx="3.5" fill="#5544b0"/>
<path d="M1649,188 L1620,268 Q1634.5,291 1649,291 Z" fill="#93d3e0"/>
<path d="M1649,188 L1684,268 Q1666.5,291 1649,291 Z" fill="#86c2cf"/>
<rect x="1419.75" y="628" width="4" height="21" rx="2.0" fill="#5544b0"/>
<path d="M1420.5,567.5 L1402.5,620 Q1411.5,630 1420.5,630 Z" fill="#93d3e0"/>
<path d="M1420.5,567.5 L1441,616 Q1430.75,630 1420.5,630 Z" fill="#86c2cf"/>
<rect x="1580.0" y="640" width="4" height="23" rx="2.0" fill="#5544b0"/>
<path d="M1581,573 L1560,630 Q1570.5,642 1581,642 Z" fill="#93d3e0"/>
<path d="M1581,573 L1604,627 Q1592.5,642 1581,642 Z" fill="#86c2cf"/>
<ellipse cx="1600.5" cy="322.2" rx="48.7" ry="32.9" transform="rotate(51 1600.5 322.2)" fill="none" stroke="#58fdfd" stroke-width="13.5"/>
</svg>
</body></html>
